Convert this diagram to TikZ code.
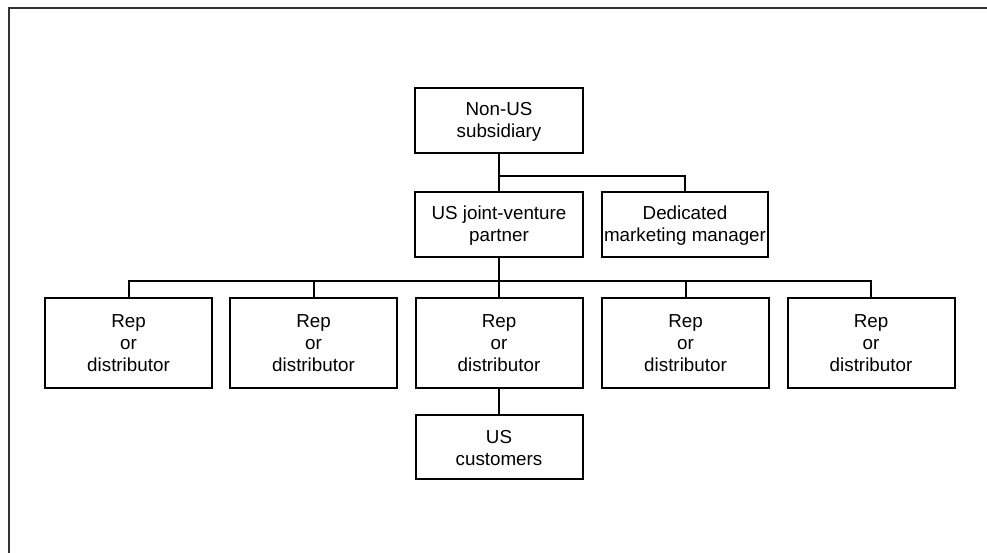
\documentclass[tikz,border=0pt]{standalone}
\usepackage{fontspec}
\setmainfont{Liberation Sans}
\begin{document}
\begin{tikzpicture}[x=1pt,y=-1pt,
  box/.style={draw, line width=2pt, align=center, inner sep=0pt,
    font=\fontsize{18.8}{21.8}\selectfont},
  wire/.style={line width=2pt},
  frameline/.style={line width=2pt, draw=black!80}]
\useasboundingbox (0,0) rectangle (987,553);
% open frame: top and left edges only
\draw[frameline] (987,8.5) -- (8.5,8.5) -- (8.5,553);

% nodes
\node[box, minimum width=168pt, minimum height=65pt] (nonus) at (499,120.5) {\strut Non-US\\subsidiary};
\node[box, minimum width=168pt, minimum height=65pt] (jv) at (499,224.5) {\strut US joint-venture\\partner};
\node[box, minimum width=166pt, minimum height=65pt] (ded) at (685,224.5) {\strut Dedicated\\marketing manager};

\foreach \n/\x in {r1/128.5, r2/313.5, r3/499, r4/685.5, r5/871}
  \node[box, minimum width=167pt, minimum height=90pt] (\n) at (\x,343) {Rep\\or\\distributor};

\node[box, minimum width=167pt, minimum height=64pt] (cust) at (499,447) {\strut US\\customers};

% connectors
\coordinate (busA) at (499,176);
\coordinate (busB) at (499,280.5);
\draw[wire] (nonus.south) -- (jv.north);
\draw[wire] (busA) -| (ded.north);
\draw[wire] (jv.south) -- (busB);
\draw[wire] (r1.north) |- (r5.north |- busB) -- (r5.north);
\foreach \n in {r2,r3,r4}
  \draw[wire] (\n.north) -- (\n.north |- busB);
\draw[wire] (r3.south) -- (cust.north);
\end{tikzpicture}
\end{document}
